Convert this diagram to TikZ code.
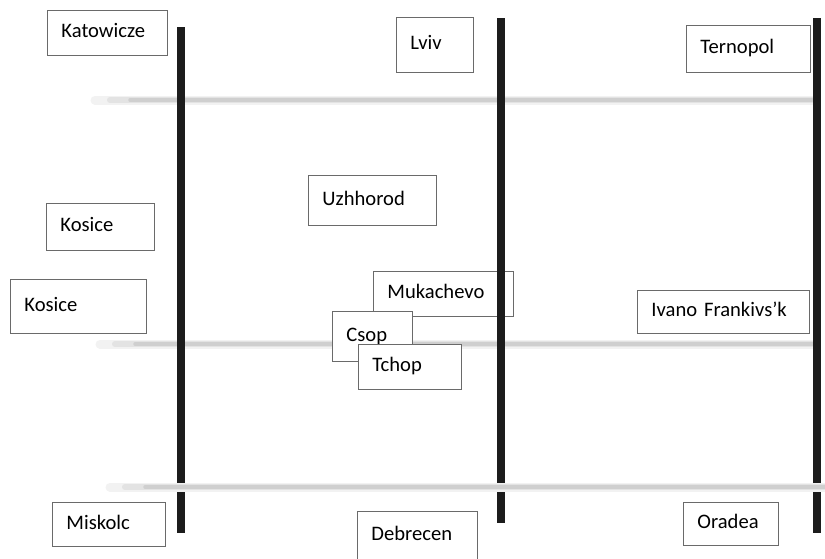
\documentclass[tikz,border=0pt]{standalone}
\usepackage{fontspec}
\setmainfont{Carlito}
\usepackage{tikz}
\definecolor{railblack}{HTML}{1C1C1C}
\definecolor{boxgray}{HTML}{6A6A6A}

\begin{document}
\begin{tikzpicture}[x=1pt,y=-1pt,
    city/.style={draw=boxgray,line width=0.9pt,fill=white,anchor=north west,
      align=left,inner xsep=14pt,text height=14pt,text depth=4pt,
      font=\fontsize{20.6}{24}\selectfont},
    rail/.style={draw=railblack,line width=8pt},
    hazeA/.style={draw=black!5,line width=9pt,line cap=round},
    hazeB/.style={draw=black!11,line width=6pt,line cap=round},
    hazeC/.style={draw=black!19,line width=3.5pt,line cap=round}]
    \useasboundingbox (0,0) rectangle (825,558);
    % blurred borders
    \foreach \y/\xa/\xb in {100/95/812,344/100/816,487/110/825} {
      \draw[hazeA] (\xa,\y) -- (\xb,\y);
      \draw[hazeB] (\xa+15,\y) -- (\xb,\y);
      \draw[hazeC] (\xa+35,\y) -- (\xb,\y);
    };
    % cities
    \node[city,text width=92pt,inner ysep=13.5pt] (katowicze) at (47,10) {Katowicze};
    \node[city,text width=49pt,inner ysep=18.5pt] (lviv) at (396,17) {Lviv};
    \node[city,text width=96pt,inner ysep=14.5pt] (ternopol) at (686,25) {Ternopol};
    \node[city,text width=80pt,inner ysep=14.5pt] (kosiceA) at (46,203) {Kosice};
    \node[city,text width=108pt,inner ysep=18pt] (kosiceB) at (10,279) {Kosice};
    \node[city,text width=100pt,inner ysep=16pt] (uzhhorod) at (308,175) {Uzhhorod};
    \node[city,text width=112pt,inner ysep=13.5pt] (mukachevo) at (373,271) {Mukachevo};
    \node[city,text width=52pt,inner ysep=16pt] (csop) at (332,311) {Csop};
    \node[city,text width=75pt,inner ysep=13.5pt] (tchop) at (358,344) {Tchop};
    \node[city,text width=144pt,inner ysep=12.5pt] (ivano) at (637,290) {Ivano Frankivs’k};
    \node[city,text width=85pt,inner ysep=13pt] (miskolc) at (52,502) {Miskolc};
    \node[city,text width=92pt,inner ysep=15pt] (debrecen) at (357,511) {Debrecen};
    \node[city,text width=67pt,inner ysep=12.5pt] (oradea) at (683,502) {Oradea};
    % rails
    \foreach \x/\ya/\yb in {181/27/533,501/18/523,817/18/533} {
      \draw[rail] (\x,\ya) -- (\x,483);
      \draw[rail] (\x,492) -- (\x,\yb);
    };
\end{tikzpicture}
\end{document}
